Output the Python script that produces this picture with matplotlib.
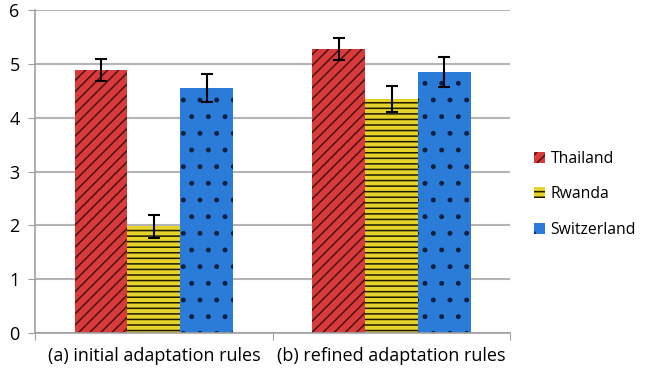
import numpy as np
import matplotlib.pyplot as plt

plt.rcParams['font.family'] = ['Open Sans', 'DejaVu Sans']
plt.rcParams['hatch.linewidth'] = 1.1

# datos
grupos = ['(a) initial adaptation rules', '(b) refined adaptation rules']
paises = ['Thailand', 'Rwanda', 'Switzerland']
thailand = [4.89, 5.28]
rwanda = [1.98, 4.35]
switzerland = [4.55, 4.85]
err_thailand = [0.21, 0.21]
err_rwanda = [0.22, 0.24]
err_switzerland = [0.26, 0.27]

colores = ['#d93a3b', '#e6d22a', '#2b7bd9']
tramas = ['///', '---', '.']
color_trama = ['#4a1212', '#1a1a00', '#0a2140']

fig = plt.figure(figsize=(6.45, 3.73), dpi=100)
ax = fig.add_axes([0.0543, 0.107, 0.737, 0.866])

x = np.arange(len(grupos))
w = 0.222
series = [(thailand, err_thailand), (rwanda, err_rwanda), (switzerland, err_switzerland)]
for i, (vals, errs) in enumerate(series):
    pos = x + (i - 1) * w
    ax.bar(pos, vals, w, color=colores[i], hatch=tramas[i], edgecolor=color_trama[i],
           linewidth=0, label=paises[i], zorder=2)
    ax.errorbar(pos, vals, yerr=errs, fmt='none', ecolor='black', elinewidth=1.5,
                capsize=4, capthick=1.5, zorder=3)

ax.set_xlim(-0.5, 1.5)
ax.set_ylim(0, 6)
ax.set_yticks(range(7))
ax.set_xticks([-0.5, 0.5, 1.5], minor=False)
ax.set_xticklabels([])
ax.set_xticks(x, minor=True)
ax.set_xticklabels(grupos, minor=True, fontsize=13)
ax.tick_params(axis='x', which='minor', length=0, pad=10)
ax.tick_params(axis='x', which='major', length=5, color='#a0a0a0')
ax.tick_params(axis='y', length=5, color='#a0a0a0', labelsize=13, pad=6)

ax.yaxis.grid(True, color='#b4b4b4', linewidth=1.5, zorder=0)
ax.set_axisbelow(True)
for s in ['top', 'right']:
    ax.spines[s].set_visible(False)
ax.spines['left'].set_color('#a0a0a0')
ax.spines['bottom'].set_color('#a0a0a0')
ax.spines['left'].set_linewidth(1.2)
ax.spines['bottom'].set_linewidth(1.2)

ax.legend(loc='center left', bbox_to_anchor=(1.02, 0.43), frameon=False,
          fontsize=11.3, handlelength=0.7, handleheight=0.7, labelspacing=1.25,
          handletextpad=0.35)

plt.savefig('out.png', dpi=100)
